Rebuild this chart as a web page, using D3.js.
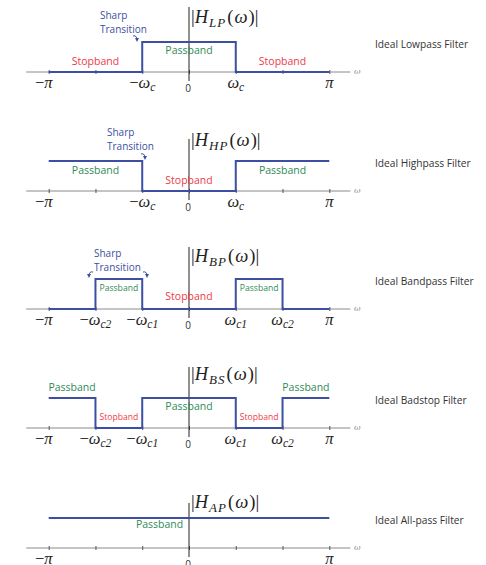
<!DOCTYPE html>
<html>
<head>
<meta charset="utf-8">
<script src="https://cdn.jsdelivr.net/npm/d3@7"></script>
<style>
  body { margin: 0; background: #fff; }
  svg { display: block; }
  .band { font-family: "Open Sans", sans-serif; text-anchor: middle; dominant-baseline: middle; }
  .math { font-family: "Liberation Serif", serif; font-style: italic; fill: #222; }
  .name { font-family: "Open Sans", sans-serif; font-size: 10.2px; fill: #333; dominant-baseline: middle; }
</style>
</head>
<body>
<script>

// frequency in units of pi, magnitude 0..1
var xTicks = [-1, -2/3, -1/3, 0, 1/3, 2/3, 1];

var filterNames = ["Ideal Lowpass Filter", "Ideal Highpass Filter", "Ideal Bandpass Filter",
                   "Ideal Badstop Filter", "Ideal All-pass Filter"];
var filterSubs = ["LP", "HP", "BP", "BS", "AP"];

var lowpass  = [[-1,0],[-1/3,0],[-1/3,1],[1/3,1],[1/3,0],[1,0]];
var highpass = [[-1,1],[-1/3,1],[-1/3,0],[1/3,0],[1/3,1],[1,1]];
var bandpass = [[-1,0],[-2/3,0],[-2/3,1],[-1/3,1],[-1/3,0],[1/3,0],[1/3,1],[2/3,1],[2/3,0],[1,0]];
var bandstop = [[-1,1],[-2/3,1],[-2/3,0],[-1/3,0],[-1/3,1],[1/3,1],[1/3,0],[2/3,0],[2/3,1],[1,1]];
var allpass  = [[-1,1],[1,1]];

// tick labels: [omega, symbol, subscript]
var ticksLP = [[-1,"π",""],[-1/3,"ω","c"],[1/3,"ω","c"],[1,"π",""]];
var ticksBP = [[-1,"π",""],[-2/3,"ω","c2"],[-1/3,"ω","c1"],[1/3,"ω","c1"],[2/3,"ω","c2"],[1,"π",""]];
var ticksAP = [[-1,"π",""],[1,"π",""]];

// band labels: [kind, omega, magnitude]
var bandsLP = [["stop",-2/3,0.33],["pass",0,0.7],["stop",2/3,0.33]];
var bandsHP = [["pass",-2/3,0.67],["stop",0,0.33],["pass",2/3,0.67]];
var bandsBP = [["pass",-0.5,0.67],["stop",0,0.4],["pass",0.5,0.67]];
var bandsBS = [["pass",-5/6,1.33],["stop",-0.5,0.33],["pass",0,0.7],["stop",0.5,0.33],["pass",5/6,1.33]];
var bandsAP = [["pass",-0.21,0.77]];

var responses = [lowpass, highpass, bandpass, bandstop, allpass];
var tickSets = [ticksLP, ticksLP, ticksBP, ticksBP, ticksAP];
var bandSets = [bandsLP, bandsHP, bandsBP, bandsBS, bandsAP];

// layout of each panel
var layout = [
  {axisY: 72,  lineTop: -65, titleY: -49, note: {x: 100, y: -53, arrows: [[136, -34, 1]]}},
  {axisY: 191, lineTop: -52, titleY: -45, note: {x: 107, y: -55, arrows: [[144, -35, 1]]}},
  {axisY: 309, lineTop: -62, titleY: -47, note: {x: 94,  y: -52, arrows: [[90, -35, -1], [146, -35, 1]]}},
  {axisY: 428, lineTop: -61, titleY: -48, note: null},
  {axisY: 548, lineTop: -45, titleY: -40, note: null}
];

var blue = "#3c4fa2", red = "#ee3b45", green = "#2f8a57", gray = "#8a8a8a";

var W = 486, H = 565;
var svg = d3.select("body").append("svg").attr("width", W).attr("height", H);

var x = d3.scaleLinear().domain([-1, 1]).range([48.7, 329.3]);
var y = d3.scaleLinear().domain([0, 1]).range([0, -30]);

svg.append("defs").append("marker")
  .attr("id", "head")
  .attr("viewBox", "0 0 6 6")
  .attr("refX", 3).attr("refY", 3)
  .attr("markerWidth", 4).attr("markerHeight", 4)
  .attr("orient", "auto")
  .append("path")
  .attr("d", "M0,0L6,3L0,6Z")
  .attr("fill", blue);

function bandWidth(resp, w)
{
  var xs = Array.from(new Set(resp.map(function(d) { return d[0]; }))).sort(d3.ascending);
  for (var i = 0; i < xs.length - 1; i++)
    if (w >= xs[i] && w <= xs[i+1]) return xs[i+1] - xs[i];
  return 2;
}

responses.forEach(function(resp, i)
{
  var L = layout[i];
  var g = svg.append("g").attr("transform", "translate(0," + L.axisY + ")");

  // horizontal axis
  g.append("line")
    .attr("x1", x(-1.16)).attr("x2", x(1.15))
    .attr("stroke", gray).attr("stroke-width", 1);

  var ax = g.append("g")
    .call(d3.axisBottom(x).tickValues(xTicks).tickSize(2).tickFormat(""));
  ax.select(".domain").remove();
  ax.selectAll(".tick line").attr("y1", -2).attr("stroke", "#555");

  g.append("text")
    .attr("x", x(1.155) + 3).attr("y", 2)
    .attr("font-family", "DejaVu Serif, serif").attr("font-style", "italic")
    .attr("font-size", 8).attr("fill", gray)
    .text("ω");

  // vertical axis
  g.append("line")
    .attr("x1", x(0)).attr("x2", x(0))
    .attr("y1", L.lineTop).attr("y2", 9)
    .attr("stroke", "#222").attr("stroke-width", 1);

  g.append("text")
    .attr("x", x(0) - 1).attr("y", 20)
    .attr("text-anchor", "middle")
    .attr("font-family", "Open Sans, sans-serif").attr("font-size", 10).attr("fill", "#333")
    .text("0");

  // title |H_xx(w)|
  var t = g.append("text")
    .attr("class", "math")
    .attr("x", x(0) + 2).attr("y", L.titleY)
    .attr("font-size", 18.5);
  t.append("tspan").attr("font-style", "normal").text("|");
  t.append("tspan").text("H");
  t.append("tspan").attr("font-size", 13).attr("dy", 4).attr("dx", 1).attr("letter-spacing", 1).text(filterSubs[i]);
  t.append("tspan").attr("dy", -4).attr("dx", 1).attr("font-style", "normal").text("(");
  t.append("tspan").attr("dx", 1).text("ω");
  t.append("tspan").attr("dx", 1).attr("font-style", "normal").text(")|");

  // tick labels
  tickSets[i].forEach(function(d)
  {
    var lab = g.append("text")
      .attr("class", "math")
      .attr("x", x(d[0]) + (d[0] === -1 ? -5 : 0)).attr("y", 16)
      .attr("text-anchor", "middle")
      .attr("font-size", 16.5);
    if (d[0] < 0) lab.append("tspan").attr("font-style", "normal").text("−");
    lab.append("tspan").text(d[1]);
    if (d[2]) lab.append("tspan").attr("font-size", 11.5).attr("dy", 3).text(d[2]);
  });

  // response
  var line = d3.line()
    .x(function(d) { return x(d[0]); })
    .y(function(d) { return y(d[1]); });
  g.append("path")
    .datum(resp)
    .attr("d", line)
    .attr("fill", "none")
    .attr("stroke", blue).attr("stroke-width", 2);

  // band labels, smaller when squeezed into a narrow band
  bandSets[i].forEach(function(d)
  {
    var narrow = bandWidth(resp, d[1]) < 0.4 && d[2] < 1;
    g.append("text")
      .attr("class", "band")
      .attr("x", x(d[1])).attr("y", y(d[2]))
      .attr("font-size", narrow ? 8.6 : 10.5)
      .attr("fill", d[0] === "pass" ? green : red)
      .text(d[0] === "pass" ? "Passband" : "Stopband");
  });

  // sharp transition note
  if (L.note)
  {
    var n = g.append("text")
      .attr("font-family", "Open Sans, sans-serif").attr("font-size", 10).attr("fill", blue)
      .attr("x", L.note.x).attr("y", L.note.y);
    n.append("tspan").attr("x", L.note.x).text("Sharp");
    n.append("tspan").attr("x", L.note.x).attr("dy", 13.5).text("Transition");

    L.note.arrows.forEach(function(a)
    {
      var ax0 = a[0], ay0 = a[1], s = a[2];
      g.append("path")
        .attr("d", "M" + (ax0 - 3 * s) + "," + (ay0 - 2) +
                   " Q" + (ax0 + 1 * s) + "," + (ay0 - 3) + " " + (ax0 + 1 * s) + "," + (ay0 + 2))
        .attr("fill", "none")
        .attr("stroke", blue).attr("stroke-width", 1)
        .attr("marker-end", "url(#head)");
    });
  }

  // filter name
  svg.append("text")
    .attr("class", "name")
    .attr("x", 375).attr("y", L.axisY - 27)
    .text(filterNames[i]);
});

</script>
</body>
</html>
